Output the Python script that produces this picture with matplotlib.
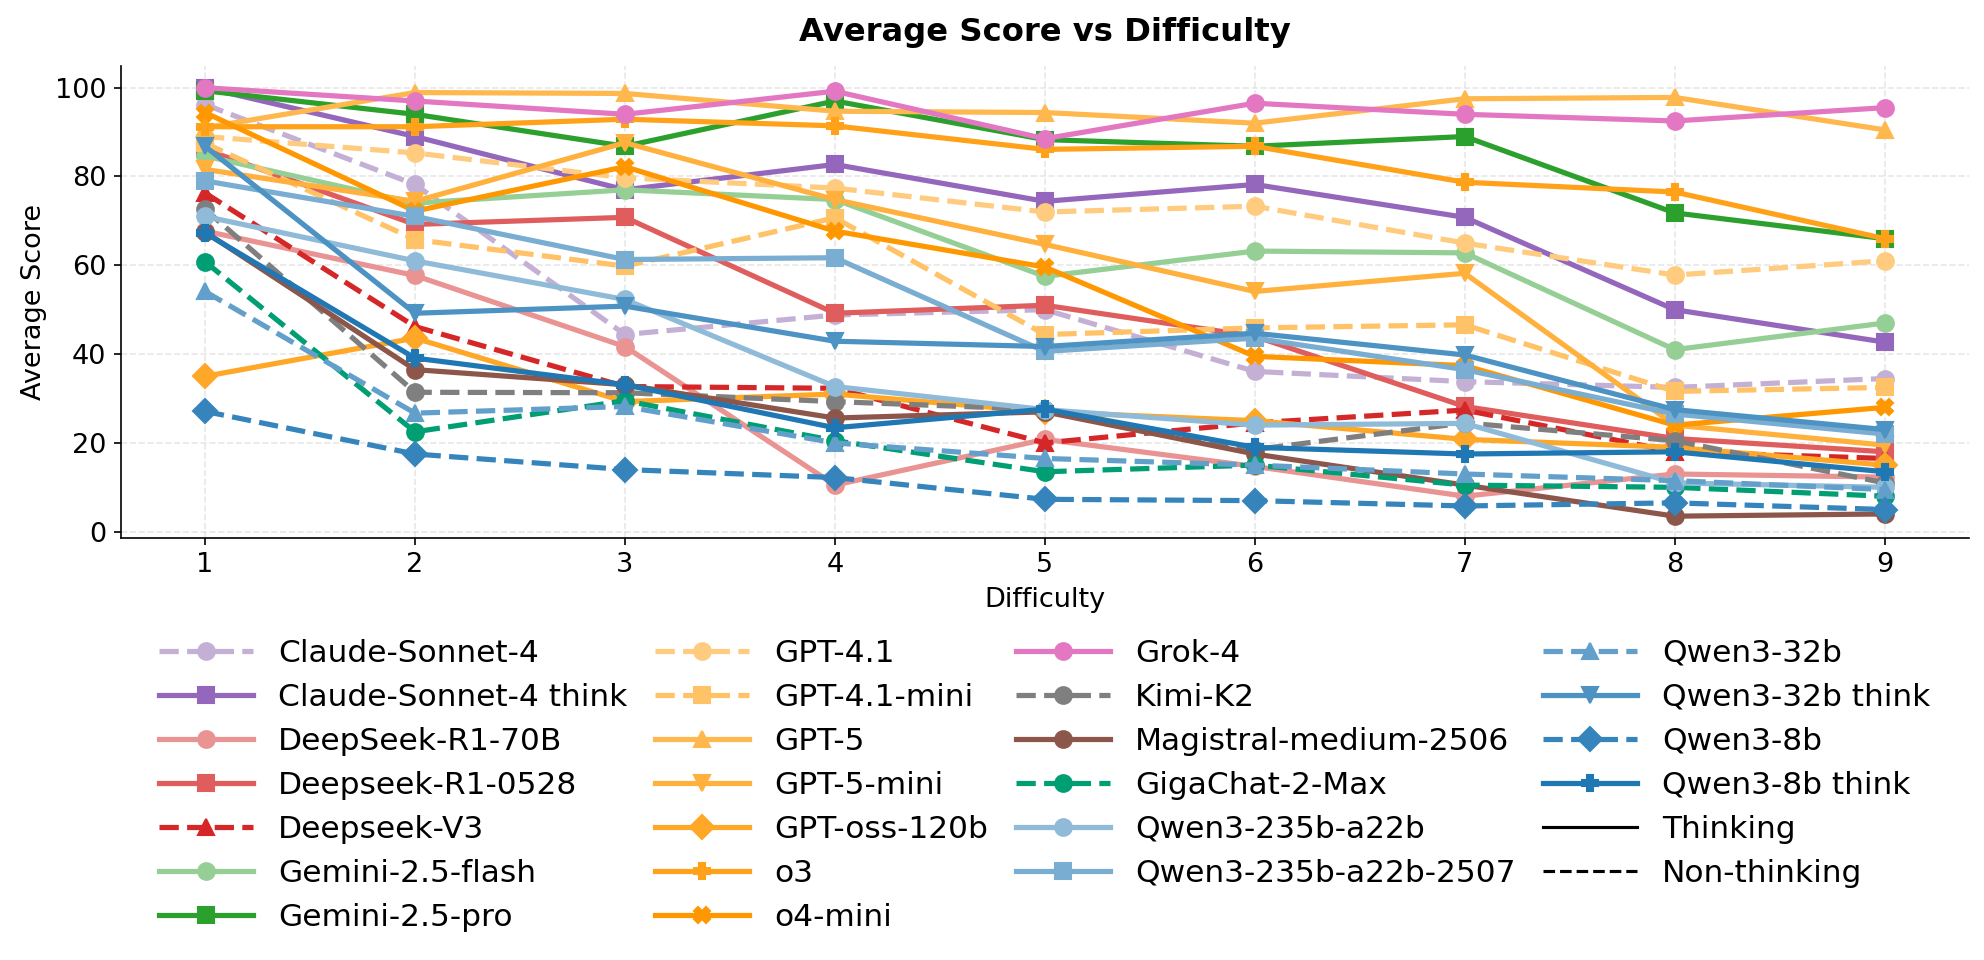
import matplotlib
matplotlib.use('Agg')
import matplotlib.pyplot as plt
from matplotlib.lines import Line2D

# Difficulty levels
difficulty = [1, 2, 3, 4, 5, 6, 7, 8, 9]

# Average score per model
claude_sonnet_4 = [96.2, 78.2, 44.4, 48.8, 50.0, 36.1, 33.8, 32.5, 34.5]
claude_sonnet_4_think = [100.0, 89.0, 77.0, 82.7, 74.4, 78.2, 70.8, 50.0, 42.7]
deepseek_r1_70b = [67.7, 57.7, 41.7, 10.5, 20.8, 14.7, 8.0, 13.0, 12.3]
deepseek_r1_0528 = [86.1, 69.2, 70.8, 49.2, 51.0, 44.0, 28.2, 21.0, 18.0]
deepseek_v3 = [76.3, 46.2, 32.7, 32.3, 20.0, 24.5, 27.4, 18.0, 16.5]
gemini_flash = [84.6, 74.0, 77.0, 74.8, 57.5, 63.2, 62.8, 41.0, 47.0]
gemini_pro = [99.3, 94.0, 86.8, 97.0, 88.3, 86.8, 89.0, 71.8, 66.0]
gpt_41 = [89.0, 85.3, 79.7, 77.4, 72.0, 73.3, 65.0, 57.8, 61.0]
gpt_41_mini = [87.5, 65.8, 59.8, 70.7, 44.4, 45.9, 46.6, 31.6, 32.5]
gpt_5 = [91.0, 98.9, 98.7, 94.7, 94.4, 92.0, 97.5, 97.8, 90.5]
gpt_5_mini = [81.6, 74.4, 87.6, 74.8, 64.7, 54.1, 58.2, 24.0, 19.5]
gpt_oss_120b = [35.0, 43.6, 29.3, 31.0, 27.0, 25.0, 20.8, 19.0, 15.0]
o3 = [91.2, 91.2, 92.9, 91.4, 86.1, 86.8, 78.7, 76.5, 66.0]
o4_mini = [94.4, 72.2, 82.2, 67.7, 59.6, 39.5, 37.4, 24.0, 28.0]
grok_4 = [100.0, 97.0, 94.0, 99.2, 88.5, 96.5, 94.0, 92.5, 95.5]
kimi_k2 = [72.6, 31.4, 31.3, 29.3, 27.5, 18.5, 24.5, 20.5, 11.0]
magistral = [67.5, 36.5, 33.1, 25.6, 27.0, 17.5, 10.5, 3.5, 4.0]
gigachat = [60.8, 22.5, 29.5, 20.5, 13.5, 15.0, 10.5, 10.0, 8.0]
qwen_235b = [71.0, 61.0, 52.3, 32.7, 27.5, 24.0, 24.4, 11.0, 10.0]
qwen_235b_2507 = [79.0, 71.0, 61.3, 61.7, 40.6, 43.6, 36.5, 26.5, 22.0]
qwen_32b = [54.1, 26.7, 28.2, 20.0, 16.5, 15.0, 13.0, 11.5, 9.5]
qwen_32b_think = [86.8, 49.2, 50.8, 42.9, 41.7, 44.7, 39.8, 27.5, 23.0]
qwen_8b = [27.1, 17.5, 14.0, 12.2, 7.3, 7.0, 5.8, 6.5, 5.0]
qwen_8b_think = [67.3, 39.1, 33.1, 23.4, 27.6, 19.0, 17.5, 18.0, 13.5]

# (label, values, colour, marker, dashed)
models = [
    ('Claude-Sonnet-4', claude_sonnet_4, '#c5b0d5', 'o', True),
    ('Claude-Sonnet-4 think', claude_sonnet_4_think, '#9467bd', 's', False),
    ('DeepSeek-R1-70B', deepseek_r1_70b, '#ea9393', 'o', False),
    ('Deepseek-R1-0528', deepseek_r1_0528, '#e05d5e', 's', False),
    ('Deepseek-V3', deepseek_v3, '#d62728', '^', True),
    ('Gemini-2.5-flash', gemini_flash, '#95cf95', 'o', False),
    ('Gemini-2.5-pro', gemini_pro, '#2ca02c', 's', False),
    ('GPT-4.1', gpt_41, '#ffcb7f', 'o', True),
    ('GPT-4.1-mini', gpt_41_mini, '#ffc266', 's', True),
    ('GPT-5', gpt_5, '#ffb84d', '^', False),
    ('GPT-5-mini', gpt_5_mini, '#ffb03d', 'v', False),
    ('GPT-oss-120b', gpt_oss_120b, '#ffa726', 'D', False),
    ('o3', o3, '#ffa21a', 'P', False),
    ('o4-mini', o4_mini, '#ff9800', 'X', False),
    ('Grok-4', grok_4, '#e377c2', 'o', False),
    ('Kimi-K2', kimi_k2, '#7f7f7f', 'o', True),
    ('Magistral-medium-2506', magistral, '#8c564b', 'o', False),
    ('GigaChat-2-Max', gigachat, '#009e73', 'o', True),
    ('Qwen3-235b-a22b', qwen_235b, '#8fbbd9', 'o', False),
    ('Qwen3-235b-a22b-2507', qwen_235b_2507, '#79add2', 's', False),
    ('Qwen3-32b', qwen_32b, '#62a0cb', '^', True),
    ('Qwen3-32b think', qwen_32b_think, '#4c92c3', 'v', False),
    ('Qwen3-8b', qwen_8b, '#3585bc', 'D', True),
    ('Qwen3-8b think', qwen_8b_think, '#1f77b4', 'P', False),
]

fig, ax = plt.subplots(figsize=(13.23, 6.4), dpi=150)
fig.subplots_adjust(left=0.061, right=0.992, top=0.931, bottom=0.44)

for label, values, color, marker, dashed in models:
    ax.plot(difficulty, values, color=color, marker=marker,
            linestyle='--' if dashed else '-', linewidth=2.5,
            markersize=8, label=label)

ax.set_title('Average Score vs Difficulty', fontsize=15.5, fontweight='bold', pad=12)
ax.set_xlabel('Difficulty', fontsize=13)
ax.set_ylabel('Average Score', fontsize=13)
ax.set_xticks(difficulty)
ax.tick_params(labelsize=13)
ax.grid(True, linestyle='--', alpha=0.3)
ax.spines['top'].set_visible(False)
ax.spines['right'].set_visible(False)

# Extra legend entries for line style meaning
handles, labels = ax.get_legend_handles_labels()
handles += [Line2D([0], [0], color='black', linestyle='-', linewidth=1.5),
            Line2D([0], [0], color='black', linestyle='--', linewidth=1.5)]
labels += ['Thinking', 'Non-thinking']
ax.legend(handles, labels, loc='upper center', bbox_to_anchor=(0.5, -0.155),
          ncol=4, fontsize=15, frameon=False, handlelength=3,
          labelspacing=0.48, columnspacing=0.9)

plt.savefig('out.png', dpi=150)
plt.close()
